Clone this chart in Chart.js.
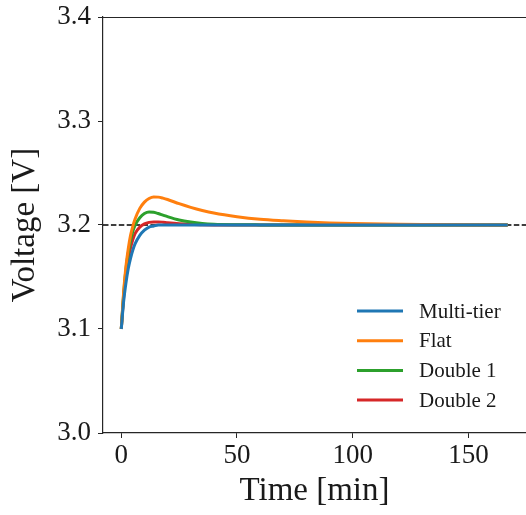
<!DOCTYPE html>
<html>
<head>
<meta charset="utf-8">
<script src="https://cdn.jsdelivr.net/npm/chart.js@4/dist/chart.umd.min.js"></script>
<style>
  html, body { margin: 0; padding: 0; background: #fff; }
  #wrap { width: 526px; height: 515px; }
</style>
</head>
<body>
<div id="wrap"><canvas id="c" width="526" height="515"></canvas></div>
<script>
/* ── Data ── */
const timeMin = [0, 1, 2, 3, 4, 5, 6, 8, 10, 12, 14, 16, 18, 20, 25, 30, 35, 40, 50, 60, 70, 80, 90, 100, 120, 140, 167];

const multiTier = [3.100, 3.126, 3.144, 3.158, 3.168, 3.176, 3.182, 3.190, 3.195, 3.198, 3.199, 3.200, 3.200, 3.200,
                   3.200, 3.200, 3.200, 3.200, 3.200, 3.200, 3.200, 3.200, 3.200, 3.200, 3.200, 3.200, 3.200];
const flat      = [3.100, 3.135, 3.160, 3.177, 3.190, 3.199, 3.206, 3.216, 3.222, 3.2255, 3.227, 3.2268, 3.2258, 3.2245,
                   3.2205, 3.217, 3.214, 3.2115, 3.208, 3.2055, 3.204, 3.2028, 3.202, 3.2014, 3.2007, 3.2003, 3.2000];
const double1   = [3.100, 3.133, 3.157, 3.173, 3.185, 3.194, 3.200, 3.207, 3.211, 3.2125, 3.2122, 3.211, 3.2095, 3.208,
                   3.2048, 3.2028, 3.2015, 3.2008, 3.2003, 3.2001, 3.200, 3.200, 3.200, 3.200, 3.200, 3.200, 3.200];
const double2   = [3.100, 3.130, 3.152, 3.167, 3.178, 3.186, 3.192, 3.198, 3.201, 3.2025, 3.203, 3.203, 3.2027, 3.2022,
                   3.2012, 3.2006, 3.2003, 3.2001, 3.200, 3.200, 3.200, 3.200, 3.200, 3.200, 3.200, 3.200, 3.200];

const seriesNames  = ['Multi-tier', 'Flat', 'Double 1', 'Double 2'];
const seriesColors = ['#1f77b4', '#ff7f0e', '#2ca02c', '#d62728'];

const refVoltage = 3.2;
const xRange = [-7.9, 174.9];
const xTicks = [0, 50, 100, 150];
const yTicks = [3.0, 3.1, 3.2, 3.3, 3.4];

/* ── Shared styles ── */
const SERIF = '"Liberation Serif", "DejaVu Serif", serif';
const INK   = '#1a1a1a';
const SPINE = '#262626';

const toXY = ys => timeMin.map((t, i) => ({ x: t, y: ys[i] }));

/* Top spine (matplotlib box) */
const topSpine = {
  id: 'topSpine',
  afterDraw(chart) {
    const { ctx, chartArea: a } = chart;
    ctx.save();
    ctx.strokeStyle = SPINE;
    ctx.lineWidth = 1.2;
    ctx.beginPath();
    ctx.moveTo(a.left - 0.5, a.top + 0.5);
    ctx.lineTo(a.right + 2, a.top + 0.5);
    ctx.stroke();
    ctx.restore();
  }
};

/* Legend drawn inside the axes, lower right */
const innerLegend = {
  id: 'innerLegend',
  afterDraw(chart) {
    const { ctx } = chart;
    const x0 = 357, x1 = 403, tx = 419, y0 = 311, dy = 29.7;
    ctx.save();
    ctx.font = '21px ' + SERIF;
    ctx.textBaseline = 'middle';
    ctx.fillStyle = INK;
    chart.data.datasets.forEach((ds, i) => {
      if (!ds.label) return;
      const y = y0 + i * dy;
      ctx.strokeStyle = ds.borderColor;
      ctx.lineWidth = 3;
      ctx.beginPath();
      ctx.moveTo(x0, y);
      ctx.lineTo(x1, y);
      ctx.stroke();
      ctx.fillText(ds.label, tx, y + 1);
    });
    ctx.restore();
  }
};

const datasets = [multiTier, flat, double1, double2].map((ys, i) => ({
  label: seriesNames[i],
  data: toXY(ys),
  borderColor: seriesColors[i],
  borderWidth: 3,
  pointRadius: 0,
  cubicInterpolationMode: 'monotone',
  fill: false,
}));

/* Reference line at 3.2 V across the whole axis */
datasets.push({
  label: '',
  data: [{ x: xRange[0], y: refVoltage }, { x: xRange[1], y: refVoltage }],
  borderColor: '#000',
  borderWidth: 1.3,
  borderDash: [5.5, 2.4],
  pointRadius: 0,
  fill: false,
});

new Chart(document.getElementById('c'), {
  type: 'line',
  data: { datasets },
  plugins: [topSpine, innerLegend],
  options: {
    responsive: false,
    animation: false,
    layout: { padding: { top: 17, right: 0, left: 0, bottom: 0 } },
    plugins: {
      legend: { display: false },
      tooltip: { enabled: false },
    },
    scales: {
      x: {
        type: 'linear',
        min: xRange[0],
        max: xRange[1],
        afterBuildTicks: s => { s.ticks = xTicks.map(v => ({ value: v })); },
        afterFit: s => { s.height = 82; s.paddingLeft = 0; s.paddingRight = 0; },
        grid: { drawOnChartArea: false, drawTicks: true, tickLength: 5, color: SPINE, lineWidth: 1 },
        border: { display: true, color: SPINE, width: 1.2 },
        ticks: { color: INK, font: { family: SERIF, size: 27 }, padding: 2, maxRotation: 0 },
        title: { display: true, text: 'Time [min]', color: INK, font: { family: SERIF, size: 33 }, padding: { top: 0, bottom: 4 } },
      },
      y: {
        type: 'linear',
        min: 3.0,
        max: 3.4,
        afterBuildTicks: s => { s.ticks = yTicks.map(v => ({ value: v })); },
        afterFit: s => { s.width = 103; s.paddingTop = 0; s.paddingBottom = 0; },
        grid: { drawOnChartArea: false, drawTicks: true, tickLength: 5, color: SPINE, lineWidth: 1 },
        border: { display: true, color: SPINE, width: 1.2 },
        ticks: { color: INK, font: { family: SERIF, size: 27 }, padding: 7, callback: v => v.toFixed(1) },
        title: { display: true, text: 'Voltage [V]', color: INK, font: { family: SERIF, size: 33 }, padding: { top: 6, bottom: 0 } },
      },
    },
  },
});
</script>
</body>
</html>
